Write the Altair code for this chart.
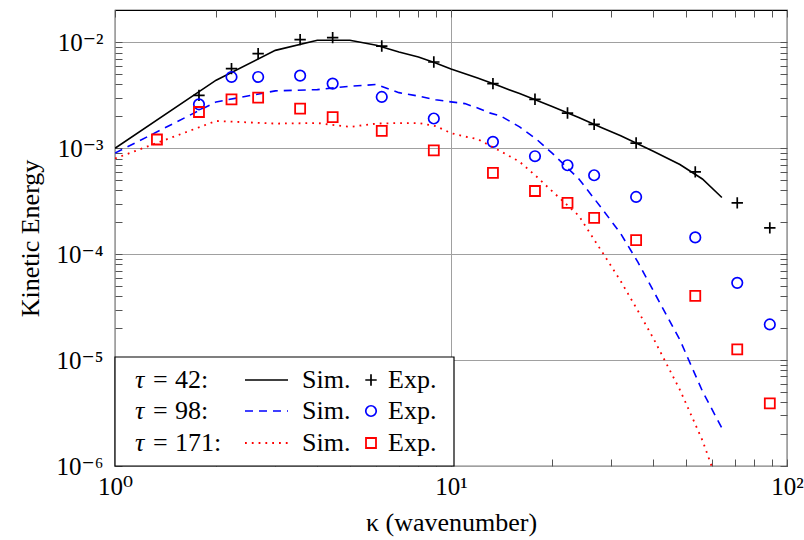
import altair as alt
import pandas as pd

# ---------------- data ----------------
sim42_k = [1, 2, 3, 4, 5, 6, 7, 8, 9, 10, 12, 14, 16, 20, 24, 28, 32, 40, 48, 56, 64]
sim42_E = [1.0e-3, 4.39e-3, 8.4e-3, 1.045e-2, 1.045e-2, 9.37e-3, 8.1e-3, 7.27e-3, 6.38e-3,
           5.6e-3, 4.6e-3, 3.84e-3, 3.28e-3, 2.48e-3, 1.95e-3, 1.57e-3, 1.31e-3, 9.37e-4,
           7.03e-4, 5.13e-4, 3.43e-4]

sim98_k = [1, 2, 3, 4, 5, 6, 7, 8, 9, 10, 11, 12, 13, 14, 16, 18, 20, 24, 28, 32, 36, 40, 48, 56, 64]
sim98_E = [9.0e-4, 2.74e-3, 3.48e-3, 3.58e-3, 3.85e-3, 4.0e-3, 3.35e-3, 3.11e-3, 2.87e-3,
           2.74e-3, 2.64e-3, 2.40e-3, 2.16e-3, 2.03e-3, 1.59e-3, 1.21e-3, 9.0e-4, 5.14e-4,
           2.75e-4, 1.56e-4, 8.4e-5, 4.52e-5, 1.55e-5, 5.1e-6, 2.28e-6]

sim171_k = [1, 2, 3, 4, 5, 6, 7, 8, 9, 10, 11, 12, 14, 16, 18, 20, 24, 28, 32, 36, 40, 48, 56, 60]
sim171_E = [8.0e-4, 1.81e-3, 1.71e-3, 1.73e-3, 1.59e-3, 1.71e-3, 1.73e-3, 1.73e-3, 1.62e-3,
            1.39e-3, 1.29e-3, 1.22e-3, 9.42e-4, 7.46e-4, 5.38e-4, 3.93e-4, 2.31e-4, 1.08e-4,
            5.56e-5, 2.92e-5, 1.61e-5, 5.24e-6, 1.75e-6, 9.5e-7]

exp_k = [1.778, 2.222, 2.667, 3.556, 4.444, 6.222, 8.889, 13.33, 17.78, 22.22, 26.67,
         35.56, 53.33, 71.11, 88.89]
exp42_E = [3.16e-3, 5.65e-3, 7.82e-3, 1.06e-2, 1.107e-2, 9.23e-3, 6.52e-3, 4.08e-3,
           2.90e-3, 2.15e-3, 1.68e-3, 1.12e-3, 5.98e-4, 3.05e-4, 1.77e-4]
exp98_E = [2.60e-3, 4.71e-3, 4.71e-3, 4.85e-3, 4.08e-3, 3.05e-3, 1.91e-3, 1.15e-3,
           8.41e-4, 6.91e-4, 5.56e-4, 3.47e-4, 1.44e-4, 5.36e-5, 2.17e-5]
exp171_k = [1.333] + exp_k
exp171_E = [1.21e-3, 2.20e-3, 2.90e-3, 3.01e-3, 2.37e-3, 1.97e-3, 1.46e-3, 9.57e-4,
            5.85e-4, 3.95e-4, 3.05e-4, 2.20e-4, 1.36e-4, 4.04e-5, 1.26e-5, 3.91e-6]

x_tick_values = [1, 10, 100]
x_tick_labels = ["10⁰", "10¹", "10²"]
y_tick_values = [1e-6, 1e-5, 1e-4, 1e-3, 1e-2]
y_tick_labels = ["10⁻⁶", "10⁻⁵", "10⁻⁴", "10⁻³", "10⁻²"]
x_title = "κ (wavenumber)"
y_title = "Kinetic Energy"

legend_tau = ["42:", "98:", "171:"]
legend_sim = "Sim."
legend_exp = "Exp."

# ---------------- layout / style ----------------
FONT = "'Liberation Serif', 'DejaVu Serif', serif"
W, H = 672, 456
BLACK, BLUE, RED = "#000000", "#0000ff", "#ff0000"
PLUS = "M-1,0H1M0,-1V1"
TITLE_SIZE = 26
TICK_SIZE = 25
LEG_SIZE = 26

minor_x = [m * 10 ** e for e in range(0, 2) for m in range(1, 10)] + [100]
minor_y = [m * 10.0 ** e for e in range(-6, -2) for m in range(1, 10)] + [1e-2]


def label_expr(values, labels):
    import math
    expo = [round(math.log10(v)) for v in values]
    expr = "''"
    for e, lab in zip(reversed(expo), reversed(labels)):
        expr = f"round(log(datum.value)/LN10) == {e} ? '{lab}' : ({expr})"
    return expr


x_scale = alt.Scale(type="log", domain=[1, 100], nice=False)
y_scale = alt.Scale(type="log", domain=[1e-6, 0.0202], nice=False)

ax_x_main = alt.Axis(orient="bottom", values=x_tick_values,
                     labelExpr=label_expr(x_tick_values, x_tick_labels),
                     grid=True, gridColor="#a0a0a0", gridWidth=1, ticks=False, domain=False,
                     labelFont=FONT, labelFontSize=TICK_SIZE, labelColor="black", labelPadding=8,
                     labelFlush=False, labelOverlap=False, labelBound=False,
                     title=x_title, titleFont=FONT, titleFontSize=TITLE_SIZE, titleFontWeight="normal",
                     titleColor="black", titleX=W / 2, titleY=56, titleBaseline="middle")
ax_y_main = alt.Axis(orient="left", values=y_tick_values,
                     labelExpr=label_expr(y_tick_values, y_tick_labels),
                     grid=True, gridColor="#a0a0a0", gridWidth=1, ticks=False, domain=False,
                     labelFont=FONT, labelFontSize=TICK_SIZE, labelColor="black", labelPadding=12,
                     labelFlush=False, labelOverlap=False, labelBound=False,
                     title=y_title, titleFont=FONT, titleFontSize=TITLE_SIZE, titleFontWeight="normal",
                     titleColor="black", titleX=-85, titleY=H / 2, titleBaseline="middle",
                     titleAlign="center")


def tick_axis(orient, offset, values):
    return alt.Axis(orient=orient, offset=offset, values=values, labels=False, ticks=True,
                    tickSize=7, tickColor="#555555", tickWidth=1, grid=False, domain=False,
                    title=None)


ax_x_bottom_in = tick_axis("top", -H, minor_x)
ax_x_top_in = tick_axis("bottom", -H, minor_x)
ax_y_left_in = tick_axis("right", -W, minor_y)
ax_y_right_in = tick_axis("left", -W, minor_y)


def enc(xaxis=None, yaxis=None):
    return dict(x=alt.X("k:Q", scale=x_scale, axis=xaxis),
                y=alt.Y("E:Q", scale=y_scale, axis=yaxis))


def df(k, e):
    return pd.DataFrame({"k": k, "E": e})


line42 = alt.Chart(df(sim42_k, sim42_E)).mark_line(
    color=BLACK, strokeWidth=1.6, clip=True).encode(**enc(ax_x_main, ax_y_main))
line98 = alt.Chart(df(sim98_k, sim98_E)).mark_line(
    color=BLUE, strokeWidth=1.6, strokeDash=[8, 6], clip=True).encode(**enc(ax_x_bottom_in, ax_y_left_in))
line171 = alt.Chart(df(sim171_k, sim171_E)).mark_line(
    color=RED, strokeWidth=1.8, strokeDash=[1.8, 5], clip=True).encode(**enc(ax_x_top_in, ax_y_right_in))

pts42 = alt.Chart(df(exp_k, exp42_E)).mark_point(
    shape=PLUS, size=130, color=BLACK, strokeWidth=1.7, filled=False, opacity=1, clip=True).encode(**enc())
pts98 = alt.Chart(df(exp_k, exp98_E)).mark_point(
    shape="circle", size=110, color=BLUE, strokeWidth=1.7, filled=False, opacity=1, clip=True).encode(**enc())
pts171 = alt.Chart(df(exp171_k, exp171_E)).mark_point(
    shape="square", size=100, color=RED, strokeWidth=1.8, filled=False, opacity=1, clip=True).encode(**enc())

# ---------------- legend (hand-built box at lower left) ----------------
one = pd.DataFrame({"i": [0]})
legend_layers = [
    alt.Chart(one).mark_rect(fill="white", stroke="black", strokeWidth=1.2).encode(
        x=alt.value(0), x2=alt.value(339), y=alt.value(347), y2=alt.value(456))
]
row_y = [370, 401, 433]
line_styles = [dict(color=BLACK, strokeWidth=1.6),
               dict(color=BLUE, strokeWidth=1.6, strokeDash=[8, 6]),
               dict(color=RED, strokeWidth=1.8, strokeDash=[1.8, 5])]
marker_styles = [dict(shape=PLUS, size=130, color=BLACK, strokeWidth=1.7),
                 dict(shape="circle", size=110, color=BLUE, strokeWidth=1.7),
                 dict(shape="square", size=100, color=RED, strokeWidth=1.8)]
txt = dict(font=FONT, fontSize=LEG_SIZE, color="black", align="left", baseline="middle")
for i, yv in enumerate(row_y):
    legend_layers += [
        alt.Chart(pd.DataFrame({"t": ["τ"]})).mark_text(fontStyle="italic", **txt).encode(
            x=alt.value(20), y=alt.value(yv), text="t:N"),
        alt.Chart(pd.DataFrame({"t": ["="]})).mark_text(**txt).encode(
            x=alt.value(38), y=alt.value(yv), text="t:N"),
        alt.Chart(pd.DataFrame({"t": [legend_tau[i]]})).mark_text(**txt).encode(
            x=alt.value(60), y=alt.value(yv), text="t:N"),
        alt.Chart(one).mark_rule(**line_styles[i]).encode(
            x=alt.value(130), x2=alt.value(173), y=alt.value(yv)),
        alt.Chart(pd.DataFrame({"t": [legend_sim]})).mark_text(**txt).encode(
            x=alt.value(187), y=alt.value(yv), text="t:N"),
        alt.Chart(one).mark_point(filled=False, opacity=1, **marker_styles[i]).encode(
            x=alt.value(256), y=alt.value(yv)),
        alt.Chart(pd.DataFrame({"t": [legend_exp]})).mark_text(**txt).encode(
            x=alt.value(273), y=alt.value(yv), text="t:N"),
    ]

chart = alt.layer(
    line42, pts42, line98, pts98, line171, pts171, *legend_layers
).resolve_axis(
    x="independent", y="independent"
).properties(
    width=W, height=H,
    padding={"left": 115, "top": 10, "right": 17, "bottom": 74},
    autosize=alt.AutoSizeParams(type="none"),
    background="white",
).configure_view(
    stroke="black", strokeWidth=1.2
)

chart.save("out.html", embed_options={"renderer": "svg", "actions": False})
